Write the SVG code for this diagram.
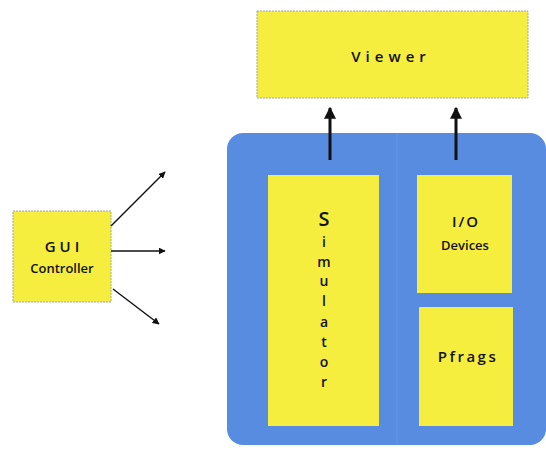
<svg xmlns="http://www.w3.org/2000/svg" width="546" height="455" viewBox="0 0 546 455">
  <defs>
    <marker id="arrow" viewBox="0 0 10 10" refX="9" refY="5" markerWidth="7" markerHeight="7" markerUnits="userSpaceOnUse" orient="auto">
      <path d="M0,0 L10,5 L0,10 Z" fill="#111"/>
    </marker>
    <marker id="arrowBig" viewBox="0 0 10 10" refX="9" refY="5" markerWidth="4" markerHeight="4" orient="auto">
      <path d="M0,0 L10,5 L0,10 Z" fill="#111"/>
    </marker>
  </defs>
  <style>
    .box { fill: #f5ee3e; }
    .framed { stroke: #a8a890; stroke-width: 1; stroke-dasharray: 2 1; }
    .label { font-family: "Open Sans", "DejaVu Sans", sans-serif; font-weight: 600; fill: #111; text-anchor: middle; }
    .spaced { letter-spacing: 5px; font-size: 15px; }
    .small { font-size: 13px; }
    .letter { font-size: 14px; }
    .thin { stroke: #111; stroke-width: 1.4; fill: none; }
    .thick { stroke: #111; stroke-width: 3; fill: none; }
  </style>
  <rect width="546" height="455" fill="#ffffff"/>

  <g id="viewer">
    <rect class="box framed" x="257" y="11" width="271" height="87"/>
    <text class="label spaced" x="391" y="62">Viewer</text>
  </g>

  <g id="container">
    <rect x="227" y="133" width="319" height="312" rx="16" fill="#588ce0"/>
    <line x1="397" y1="133" x2="397" y2="445" stroke="#6496e3" stroke-width="1"/>
  </g>

  <g id="simulator">
    <rect class="box" x="268" y="175" width="111" height="251"/>
    <text class="label" x="324" y="226" font-size="20">S</text>
    <text class="label letter" x="324" y="247">i</text>
    <text class="label letter" x="324" y="267">m</text>
    <text class="label letter" x="324" y="286">u</text>
    <text class="label letter" x="324" y="306">l</text>
    <text class="label letter" x="324" y="327">a</text>
    <text class="label letter" x="324" y="347">t</text>
    <text class="label letter" x="324" y="367">o</text>
    <text class="label letter" x="324" y="387">r</text>
  </g>

  <g id="io-devices">
    <rect class="box" x="417" y="175" width="95" height="118"/>
    <text class="label" x="466" y="227" font-size="15" style="letter-spacing:2px">I/O</text>
    <text class="label small" x="465" y="250">Devices</text>
  </g>

  <g id="pfrags">
    <rect class="box" x="419" y="307" width="94" height="119"/>
    <text class="label" x="468" y="362" font-size="15" style="letter-spacing:2.5px">Pfrags</text>
  </g>

  <g id="gui-controller">
    <rect class="box framed" x="13" y="211" width="98" height="91"/>
    <text class="label" x="64" y="252" font-size="15" style="letter-spacing:4px">GUI</text>
    <text class="label small" x="62" y="273">Controller</text>
  </g>

  <g id="connectors">
    <line class="thick" x1="330" y1="160" x2="330" y2="108" marker-end="url(#arrowBig)"/>
    <line class="thick" x1="456" y1="160" x2="456" y2="108" marker-end="url(#arrowBig)"/>
    <line class="thin" x1="111" y1="226" x2="165" y2="172" marker-end="url(#arrow)"/>
    <line class="thin" x1="111" y1="251" x2="165" y2="251" marker-end="url(#arrow)"/>
    <line class="thin" x1="113" y1="289" x2="159" y2="324" marker-end="url(#arrow)"/>
  </g>
</svg>
